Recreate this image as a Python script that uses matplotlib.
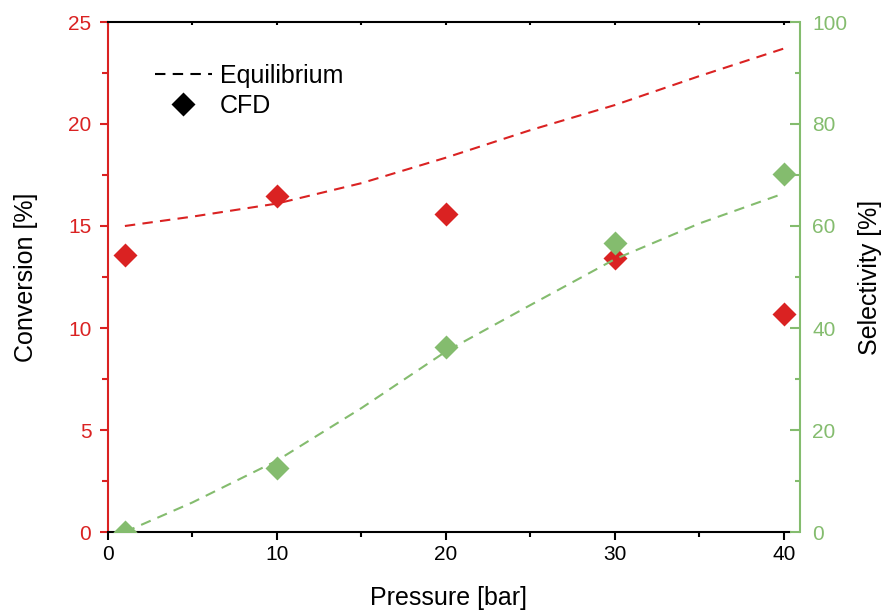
import matplotlib
matplotlib.use('Agg')
import matplotlib.pyplot as plt
from matplotlib.lines import Line2D
from matplotlib.ticker import MultipleLocator
from matplotlib.transforms import Bbox, TransformedBbox

plt.rcParams['font.family'] = ['Liberation Sans', 'DejaVu Sans']

red = '#DA2222'
green = '#84BC6E'

# CFD results
pressure_cfd = [1, 10, 20, 30, 40]
conversion_cfd = [13.6, 16.47, 15.57, 13.45, 10.67]
selectivity_cfd = [0.0, 12.6, 36.2, 56.7, 70.1]

# equilibrium curves
pressure_eq = [1, 5, 10, 15, 20, 25, 30, 35, 40]
conversion_eq = [15.0, 15.46, 16.1, 17.1, 18.35, 19.7, 20.93, 22.35, 23.7]
selectivity_eq = [0.0, 5.8, 14.0, 24.3, 35.4, 44.5, 53.5, 60.5, 66.4]

fig = plt.figure(figsize=(8.85, 6.1), dpi=100)
ax = fig.add_axes([108/885, 78/610, 682/885, 510/610])
ax2 = ax.twinx()

ax.plot(pressure_eq, conversion_eq, color=red, lw=1.5, dashes=(5, 3.5))
m1, = ax.plot(pressure_cfd, conversion_cfd, 'D', color=red, ms=12.5, mec='none')
ax2.plot(pressure_eq, selectivity_eq, color=green, lw=1.5, dashes=(5, 3.5))
m2, = ax2.plot(pressure_cfd, selectivity_cfd, 'D', color=green, ms=12.5, mec='none')

# markers clip at the bottom but may run past the right edge a little
for m, a in ((m1, ax), (m2, ax2)):
    m.set_clip_box(TransformedBbox(Bbox([[-0.05, 0], [1.05, 1.05]]), a.transAxes))

ax.set_xlim(0, 40.36)
ax.set_ylim(0, 25)
ax2.set_ylim(0, 100)

ax.xaxis.set_major_locator(MultipleLocator(10))
ax.xaxis.set_minor_locator(MultipleLocator(5))
ax.yaxis.set_major_locator(MultipleLocator(5))
ax.yaxis.set_minor_locator(MultipleLocator(2.5))
ax2.yaxis.set_major_locator(MultipleLocator(20))
ax2.yaxis.set_minor_locator(MultipleLocator(10))

# spines
for a in (ax, ax2):
    for s in a.spines.values():
        s.set_linewidth(1.5)
ax.spines['left'].set_color(red)
ax.spines['right'].set_visible(False)
ax2.spines['left'].set_visible(False)
ax2.spines['top'].set_visible(False)
ax2.spines['bottom'].set_visible(False)
ax2.spines['right'].set_color(green)
ax2.spines['right'].set_position(('outward', 7))

ax.tick_params(axis='x', which='major', direction='out', length=6, width=1.5, labelsize=15, pad=3)
ax.tick_params(axis='x', which='minor', direction='out', length=3.5, width=1.5)
ax.tick_params(axis='x', which='both', top=True)
for t in ax.xaxis.get_major_ticks() + ax.xaxis.get_minor_ticks():
    t.tick2line.set_marker(3)
    t.tick2line.set_markersize(2.5)
ax.tick_params(axis='y', which='major', direction='out', length=6, width=1.5, colors=red,
               labelsize=15, pad=6)
ax.tick_params(axis='y', which='minor', direction='out', length=4, width=1.5, colors=red)
ax2.tick_params(axis='y', which='major', direction='in', length=7, width=1.5, colors=green,
                labelsize=15, pad=9)
ax2.tick_params(axis='y', which='minor', direction='in', length=3.5, width=1.5, colors=green)

ax.set_xlabel('Pressure [bar]', fontsize=18, labelpad=16.5)
ax.set_ylabel('Conversion [%]', fontsize=18, labelpad=21.5)
ax2.set_ylabel('Selectivity [%]', fontsize=18, labelpad=8)

handles = [Line2D([], [], color='black', lw=1.5, dashes=(5, 3.5)),
           Line2D([], [], color='black', ls='none', marker='D', ms=12.5, mec='none')]
ax.legend(handles, ['Equilibrium', 'CFD'], loc='upper left', bbox_to_anchor=(0.050, 0.943),
          frameon=False, fontsize=18, borderpad=0, handlelength=2.3, handletextpad=0.3,
          labelspacing=0.25)

fig.savefig('out.png', dpi=100)
